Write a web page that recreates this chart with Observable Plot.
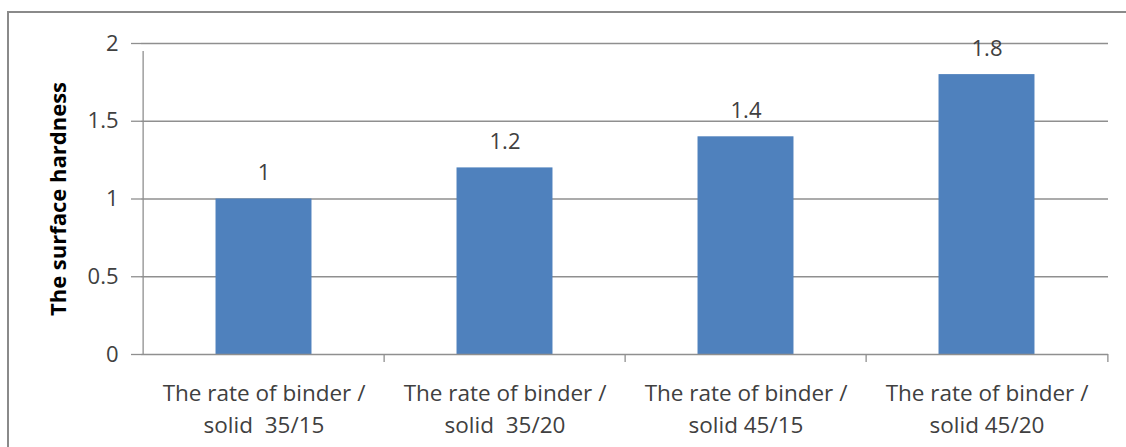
<!DOCTYPE html>
<html>
<head>
<meta charset="utf-8">
<script src="https://cdn.jsdelivr.net/npm/d3@7"></script>
<script src="https://cdn.jsdelivr.net/npm/@observablehq/plot@0.6"></script>
<style>
  html, body { margin: 0; padding: 0; background: #fff; overflow: hidden; }
  #wrap { position: relative; width: 1126px; height: 447px; }
  #frame { position: absolute; left: 7px; top: 11px; width: 1200px; height: 500px; border: 2px solid #8a8a8a; box-sizing: border-box; }
  #chart { position: absolute; left: 0; top: 0; }
</style>
</head>
<body>
<div id="wrap"><div id="frame"></div><div id="chart"></div></div>
<script>
const categories = ["35/15", "35/20", "45/15", "45/20"];
const categoryLabels = [
  "The rate of binder /\nsolid\u00a0 35/15",
  "The rate of binder /\nsolid\u00a0 35/20",
  "The rate of binder /\nsolid 45/15",
  "The rate of binder /\nsolid 45/20"
];
const values = [1, 1.2, 1.4, 1.8];
const yTicks = [0, 0.5, 1, 1.5, 2];
const yLabel = "The surface hardness";

const data = categories.map((c, i) => ({cat: c, value: values[i], label: categoryLabels[i]}));
const labelOf = new Map(data.map(d => [d.cat, d.label]));

const W = 1126, H = 447;
const mL = 141, mR = 18, mT = 43, mB = 93;
const bw = (W - mL - mR) / categories.length;
const gray = "#8f8f8f";
const textColor = "#404040";
const font = "'Open Sans', sans-serif";

const chart = Plot.plot({
  width: W,
  height: H,
  marginLeft: mL,
  marginRight: mR,
  marginTop: mT,
  marginBottom: mB,
  style: {fontFamily: font, fontSize: "22px", color: textColor, background: "transparent"},
  x: {type: "band", domain: categories, padding: 0},
  y: {domain: [0, 2]},
  marks: [
    Plot.ruleY(yTicks.filter(d => d > 0), {stroke: gray, strokeWidth: 1.3}),
    Plot.barY(data, {x: "cat", y: "value", fill: "#4F81BD", insetLeft: bw * 0.3, insetRight: bw * 0.3}),
    Plot.text(data, {x: "cat", y: "value", text: d => String(d.value), dy: -26, fill: textColor, fontSize: 22}),
    // left axis line (first category boundary), extended below zero like a tick
    Plot.ruleX(categories.slice(0, 1), {x: d => d, y1: 0, y2: 2, dx: -bw / 2, insetBottom: -8, stroke: gray, strokeWidth: 1.3}),
    // remaining category boundary ticks
    Plot.ruleX(categories.slice(1), {x: d => d, y1: 0, y2: 0, dx: -bw / 2, insetBottom: -8, stroke: gray, strokeWidth: 1.3}),
    Plot.ruleX(categories.slice(-1), {x: d => d, y1: 0, y2: 0, dx: bw / 2, insetBottom: -8, stroke: gray, strokeWidth: 1.3}),
    Plot.axisY({ticks: yTicks, tickFormat: d => String(d), tickSize: 10, tickPadding: 13, stroke: gray, strokeWidth: 1.3, fill: textColor, fontSize: 22, label: null}),
    Plot.ruleY([0], {stroke: gray, strokeWidth: 1.3}),
    Plot.axisX({tickSize: 0, tickPadding: 24, tickFormat: d => labelOf.get(d), lineHeight: 1.42, fill: textColor, fontSize: 22.5, label: null}),
    Plot.text([yLabel], {frameAnchor: "left", textAnchor: "middle", text: d => d, rotate: -90, dx: -83, fontWeight: "bold", fontSize: 22, fill: "#000"})
  ]
});
document.getElementById("chart").appendChild(chart);
</script>
</body>
</html>
